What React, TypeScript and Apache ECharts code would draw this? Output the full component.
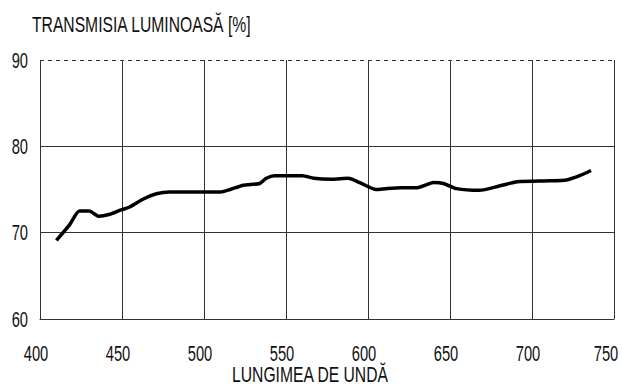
import React, { useEffect, useRef } from "react";
import * as echarts from "echarts";

const wavelengths = [410, 418, 424, 430, 436, 442, 449, 455, 463, 471, 479, 495, 510, 516, 524, 534, 538, 543, 552, 560, 567, 578, 588, 595, 605, 611, 620, 630, 640, 646, 654, 668, 680, 691, 711, 721, 729, 736];
const transmission = [69.1, 70.9, 72.5, 72.5, 71.9, 72.1, 72.6, 73.0, 73.9, 74.5, 74.7, 74.7, 74.7, 75.0, 75.5, 75.7, 76.3, 76.6, 76.6, 76.6, 76.3, 76.2, 76.3, 75.8, 75.0, 75.1, 75.2, 75.2, 75.8, 75.7, 75.1, 74.9, 75.4, 75.9, 76.0, 76.1, 76.6, 77.2];
const xTicks = [400, 450, 500, 550, 600, 650, 700, 750];
const yTicks = [60, 70, 80, 90];
const yTitle = "TRANSMISIA LUMINOASĂ [%]";
const xTitle = "LUNGIMEA DE UNDĂ";

const FONT = "16px 'Liberation Sans', Arial, sans-serif";
const SY = 1.36;
const SX = 0.92;

export default function App() {
  const ref = useRef<HTMLDivElement>(null);
  useEffect(() => {
    const chart = echarts.init(ref.current!, undefined, { renderer: "svg" });
    const data = wavelengths.map((w, i) => [w, transmission[i]]);
    chart.setOption({
      animation: false,
      backgroundColor: "#ffffff",
      grid: { left: 40, top: 60, width: 574, height: 259 },
      xAxis: {
        type: "value",
        min: xTicks[0],
        max: xTicks[xTicks.length - 1],
        interval: 50,
        axisLine: { show: true, lineStyle: { color: "#333", width: 1 } },
        axisTick: { show: false },
        axisLabel: { show: false },
        splitLine: { show: true, lineStyle: { color: "#333", width: 1 } },
      },
      yAxis: {
        type: "value",
        min: yTicks[0],
        max: yTicks[yTicks.length - 1],
        interval: 10,
        axisLine: { show: false },
        axisTick: { show: false },
        axisLabel: { show: false },
        splitLine: { show: true, lineStyle: { color: ["#333", "#333", "#333", "transparent"], width: 1 } },
      },
      series: [
        {
          type: "line",
          data,
          showSymbol: false,
          smooth: 0.2,
          lineStyle: { color: "#000", width: 3.5 },
          markLine: {
            silent: true,
            symbol: "none",
            label: { show: false },
            lineStyle: { color: "#333", width: 1, type: [4, 4] },
            data: [{ yAxis: yTicks[yTicks.length - 1] }],
          },
        },
      ],
    });

    const mkText = (text: string, x: number, y: number, align: string, sx = 1) => ({
      type: "text",
      x,
      y,
      scaleX: sx,
      scaleY: SY,
      silent: true,
      style: {
        text,
        font: FONT,
        fill: "#111",
        textAlign: align,
        textVerticalAlign: "middle",
        verticalAlign: "middle",
      },
    });

    const y0 = chart.convertToPixel({ yAxisIndex: 0 }, yTicks[0]) as number;
    const x0 = chart.convertToPixel({ xAxisIndex: 0 }, xTicks[0]) as number;
    const xEnd = chart.convertToPixel({ xAxisIndex: 0 }, xTicks[xTicks.length - 1]) as number;
    const elements: any[] = [];
    xTicks.forEach((t) => {
      const px = chart.convertToPixel({ xAxisIndex: 0 }, t) as number;
      const cx = Math.min(px - 4, 606);
      elements.push(mkText(String(t), cx, y0 + 34, "center", SX));
    });
    yTicks.forEach((t) => {
      const py = chart.convertToPixel({ yAxisIndex: 0 }, t) as number;
      elements.push(mkText(String(t), x0 - 12, py, "right", SX));
    });
    elements.push(mkText(yTitle, 32, 25, "left", 0.98));
    elements.push(mkText(xTitle, (x0 + xEnd) / 2 - 17, y0 + 56, "center", 0.98));
    chart.setOption({ graphic: elements });

    return () => chart.dispose();
  }, []);
  return <div ref={ref} style={{ position: "fixed", left: 0, top: 0, width: 622, height: 387 }} />;
}
